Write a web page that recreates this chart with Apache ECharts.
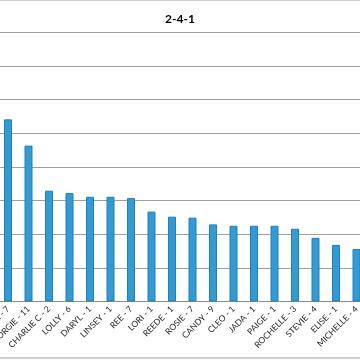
<!DOCTYPE html>
<html><head><meta charset="utf-8">
<script src="https://cdn.jsdelivr.net/npm/echarts@6/dist/echarts.min.js"></script>
<style>html,body{margin:0;padding:0;background:#fff}#c{width:360px;height:360px}</style>
</head><body><div id="c"></div>
<script>
var categories = ["ANNIE - 7","GEORGIE - 11","CHARLIE C - 2","LOLLY - 6","DARYL - 1","LINSEY - 1","REE - 7","LORI - 1","REEDE - 1","ROSIE - 7","CANDY - 9","CLEO - 1","JADA - 1","PAIGE - 1","ROCHELLE - 3","STEVIE - 4","ELISE - 1","MICHELLE - 4"];
var values = [5.41,4.63,3.29,3.22,3.11,3.11,3.07,2.67,2.52,2.49,2.29,2.25,2.25,2.25,2.16,1.89,1.68,1.56];
var titleText = "2-4-1";
var chart = echarts.init(document.getElementById('c'), null, {renderer:'canvas'});
chart.setOption({
  animation:false,
  title:{text:titleText,left:'center',top:8,textStyle:{fontFamily:'Lato',fontWeight:'bold',fontSize:12,color:'#000'}},
  grid:{left:-2.25,right:-6.75,top:-1.5,bottom:58.5,containLabel:false,outerBoundsMode:'none'},
  xAxis:{type:'category',data:categories,
    axisLine:{lineStyle:{color:'#8c8c8c',width:1}},axisTick:{show:false},
    axisLabel:{rotate:45,interval:0,fontFamily:'Lato',fontSize:8.5,color:'#262626',margin:6,hideOverlap:false}},
  yAxis:{type:'value',min:0,max:9,interval:1,axisLabel:{show:false},axisLine:{show:false},axisTick:{show:false},
    splitLine:{lineStyle:{color:'#a0a0a0',width:1}}},
  series:[{type:'bar',data:values,barWidth:8,
    itemStyle:{color:'#349ad0',borderColor:'#1b7fc6',borderWidth:1}}],
  graphic:[
    {type:'rect',shape:{x:0,y:0,width:360,height:1},style:{fill:'#cfcfcf'},silent:true},
    {type:'rect',shape:{x:0,y:357,width:360,height:2},style:{fill:'#cfcfcf'},silent:true}
  ]
});
</script></body></html>
